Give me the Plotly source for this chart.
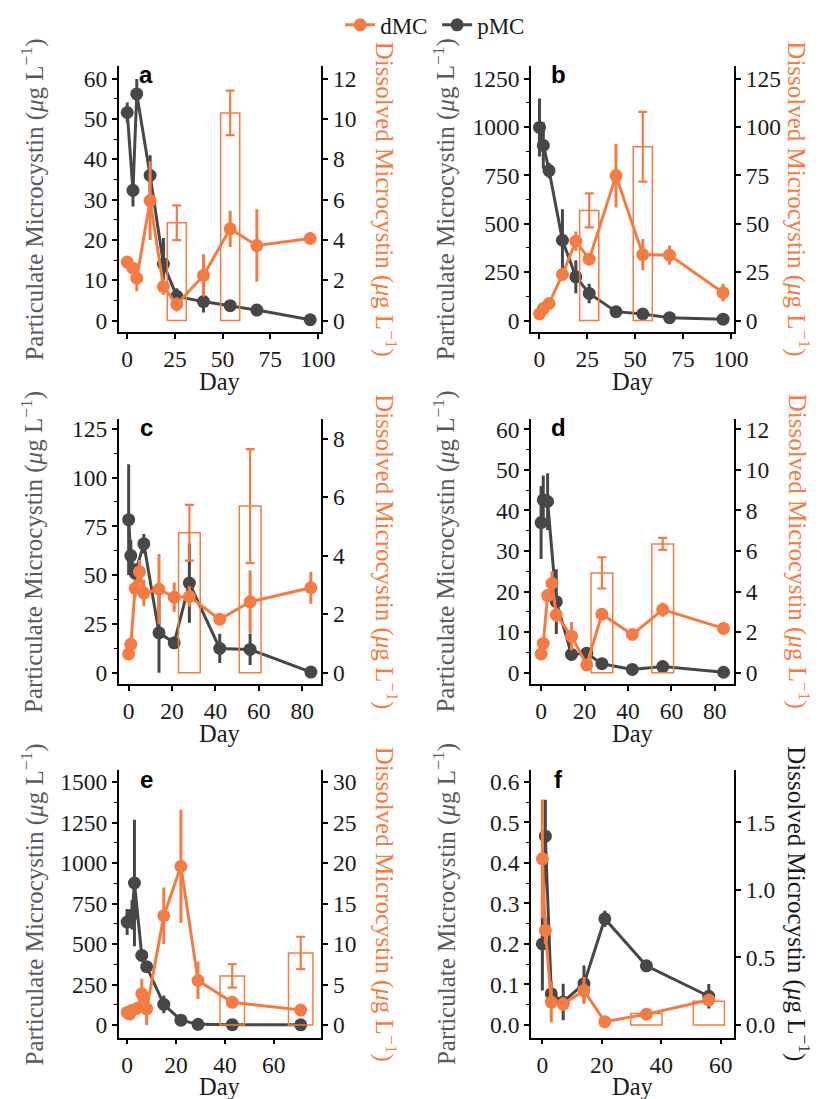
import plotly.graph_objects as go

ORANGE = "#F47C43"
GREY = "#474747"
TITLE_GREY = "#5A5A5A"

# ---------------- panel a ----------------
A_P_DAY = [0, 3, 5, 12, 19, 26, 40, 54, 68, 96]
A_PMC = [51.6, 32.3, 56.2, 36.0, 14.0, 6.0, 4.7, 3.7, 2.6, 0.2]
A_PMC_SD = [2.5, 4.0, 3.7, 5.0, 6.5, 2.0, 2.7, 1.2, 1.0, 0.3]
A_D_DAY = [0, 3, 5, 12, 19, 26, 40, 54, 68, 96]
A_DMC = [2.9, 2.6, 2.1, 5.95, 1.68, 0.8, 2.24, 4.55, 3.72, 4.07]
A_DMC_SD = [0.2, 0.2, 0.65, 1.95, 0.4, 0.35, 1.05, 0.9, 1.8, 0.3]
A_BAR_DAY = [26, 54]
A_BAR = [4.85, 10.3]
A_BAR_SD = [0.86, 1.1]

# ---------------- panel b ----------------
B_P_DAY = [0, 2, 5, 12, 19, 26, 40, 54, 68, 96]
B_PMC = [998, 905, 775, 415, 226, 140, 46, 34, 15, 7]
B_PMC_SD = [150, 120, 40, 160, 85, 50, 10, 10, 5, 3]
B_D_DAY = [0, 2, 5, 12, 19, 26, 40, 54, 68, 96]
B_DMC = [3.5, 6.2, 8.8, 23.8, 41.0, 31.7, 74.9, 34.1, 33.8, 14.4]
B_DMC_SD = [1.0, 1.0, 1.5, 3.0, 5.0, 3.0, 16.5, 8.0, 5.0, 4.5]
B_BAR_DAY = [26, 54]
B_BAR = [56.9, 89.8]
B_BAR_SD = [8.8, 18.0]

# ---------------- panel c ----------------
C_P_DAY = [0, 1, 3, 7, 14, 21, 28, 42, 56, 84]
C_PMC = [78.4, 60.0, 51.0, 66.0, 20.4, 15.3, 45.9, 12.4, 11.9, 0.3]
C_PMC_SD = [28.4, 8.0, 5.0, 5.0, 20.5, 3.0, 20.3, 7.5, 8.0, 0.5]
C_D_DAY = [0, 1, 3, 5, 7, 14, 21, 28, 42, 56, 84]
C_DMC = [0.64, 0.97, 2.88, 3.45, 2.72, 2.85, 2.58, 2.6, 1.82, 2.42, 2.9]
C_DMC_SD = [0.05, 0.1, 0.3, 0.4, 0.45, 1.2, 0.5, 0.35, 0.1, 1.08, 0.55]
C_BAR_DAY = [28, 56]
C_BAR = [4.78, 5.69]
C_BAR_SD = [0.95, 1.95]

# ---------------- panel d ----------------
D_P_DAY = [0, 1, 3, 7, 14, 21, 28, 42, 56, 84]
D_PMC = [37.0, 42.6, 42.2, 17.5, 4.5, 4.8, 2.2, 0.8, 1.5, 0.1]
D_PMC_SD = [9.0, 6.0, 7.0, 8.0, 1.5, 1.0, 0.8, 0.5, 0.5, 0.1]
D_D_DAY = [0, 1, 3, 5, 7, 14, 21, 28, 42, 56, 84]
D_DMC = [0.92, 1.44, 3.8, 4.4, 2.85, 1.8, 0.38, 2.88, 1.88, 3.11, 2.18]
D_DMC_SD = [0.1, 0.15, 0.3, 0.6, 0.35, 0.7, 0.1, 0.3, 0.25, 0.35, 0.3]
D_BAR_DAY = [28, 56]
D_BAR = [4.92, 6.35]
D_BAR_SD = [0.77, 0.3]

# ---------------- panel e ----------------
E_P_DAY = [0, 2, 3, 6, 8, 15, 22, 29, 43, 71]
E_PMC = [636, 680, 877, 430, 360, 127, 30, 4, 2, 1]
E_PMC_SD = [80, 90, 390, 30, 30, 55, 10, 2, 1, 1]
E_D_DAY = [0, 1, 2, 4, 6, 8, 15, 22, 29, 43, 71]
E_DMC = [1.56, 1.35, 1.8, 2.05, 3.85, 2.0, 13.5, 19.6, 5.5, 2.8, 1.85]
E_DMC_SD = [0.2, 0.2, 0.3, 0.4, 1.85, 2.0, 3.5, 7.0, 2.3, 0.6, 0.3]
E_BAR_DAY = [43, 71]
E_BAR = [6.07, 8.9]
E_BAR_SD = [1.45, 2.0]

# ---------------- panel f ----------------
F_P_DAY = [0, 1, 3, 7, 14, 21, 35, 56]
F_PMC = [0.2, 0.466, 0.077, 0.057, 0.102, 0.262, 0.146, 0.071]
F_PMC_SD = [0.115, 0.09, 0.03, 0.045, 0.045, 0.02, 0.012, 0.03]
F_D_DAY = [0, 1, 3, 7, 14, 21, 35, 56]
F_DMC = [1.23, 0.70, 0.17, 0.155, 0.255, 0.025, 0.08, 0.185]
F_DMC_SD = [0.44, 0.1, 0.15, 0.05, 0.1, 0.01, 0.02, 0.03]
F_BAR_DAY = [35, 56]
F_BAR = [0.086, 0.176]
F_BAR_SD = None

# ---------------- axis ticks ----------------
X_TICKS_AB = [0, 25, 50, 75, 100]
X_TICKS_CD = [0, 20, 40, 60, 80]
X_TICKS_EF = [0, 20, 40, 60]

W, H = 829, 1099
COL_X = [(120.7, 327.0), (540.0, 747.0)]
ROW_Y = [(63.0, 331.0), (417.7, 684.3), (771.0, 1039.3)]
LEFT_TITLE_X = [33.0, 451.7]
RIGHT_TITLE_X = [393.0, 812.5]

panels = [
    dict(label="a", col=0, row=0, p=(A_P_DAY, A_PMC, A_PMC_SD), d=(A_D_DAY, A_DMC, A_DMC_SD),
         bar=(A_BAR_DAY, A_BAR, A_BAR_SD), bw=10, xr=[-4.5, 101.9], xt=X_TICKS_AB,
         yl=[-2.96, 63.2], ldt=10, k=5, rdt=2, fmt="", rcol=ORANGE),
    dict(label="b", col=1, row=0, p=(B_P_DAY, B_PMC, B_PMC_SD), d=(B_D_DAY, B_DMC, B_DMC_SD),
         bar=(B_BAR_DAY, B_BAR, B_BAR_SD), bw=10, xr=[-4.5, 101.9], xt=X_TICKS_AB,
         yl=[-61.7, 1316.9], ldt=250, k=10, rdt=25, fmt="", rcol=ORANGE),
    dict(label="c", col=0, row=1, p=(C_P_DAY, C_PMC, C_PMC_SD), d=(C_D_DAY, C_DMC, C_DMC_SD),
         bar=(C_BAR_DAY, C_BAR, C_BAR_SD), bw=10, xr=[-4.6, 88.9], xt=X_TICKS_CD,
         yl=[-5.92, 130.1], ldt=25, k=15, rdt=2, fmt="", rcol=ORANGE),
    dict(label="d", col=1, row=1, p=(D_P_DAY, D_PMC, D_PMC_SD), d=(D_D_DAY, D_DMC, D_DMC_SD),
         bar=(D_BAR_DAY, D_BAR, D_BAR_SD), bw=10, xr=[-4.7, 89.0], xt=X_TICKS_CD,
         yl=[-2.85, 62.6], ldt=10, k=5, rdt=2, fmt="", rcol=ORANGE),
    dict(label="e", col=0, row=2, p=(E_P_DAY, E_PMC, E_PMC_SD), d=(E_D_DAY, E_DMC, E_DMC_SD),
         bar=(E_BAR_DAY, E_BAR, E_BAR_SD), bw=10, xr=[-3.46, 79.5], xt=X_TICKS_EF,
         yl=[-77.5, 1571.9], ldt=250, k=50, rdt=5, fmt="", rcol=ORANGE),
    dict(label="f", col=1, row=2, p=(F_P_DAY, F_PMC, F_PMC_SD), d=(F_D_DAY, F_DMC, F_DMC_SD),
         bar=(F_BAR_DAY, F_BAR, F_BAR_SD), bw=10.5, xr=[-3.87, 64.6], xt=X_TICKS_EF,
         yl=[-0.031, 0.628], ldt=0.1, k=1 / 3, rdt=0.5, fmt=".1f", rcol="#1a1a1a"),
]

SERIF = "Liberation Serif"
TICK_FONT = dict(family=SERIF, size=23.5, color="#1a1a1a")


def px_x(v):
    return v / W


def px_y(v):
    return 1 - v / H


fig = go.Figure()
annotations = []
layout = {}

for i, pnl in enumerate(panels, start=1):
    xs = "" if i == 1 else str(i)
    yl_id = 2 * i - 1
    yr_id = 2 * i
    yl_s = "" if yl_id == 1 else str(yl_id)
    yr_s = str(yr_id)
    x0, x1 = COL_X[pnl["col"]]
    y0, y1 = ROW_Y[pnl["row"]]
    xdom = [px_x(x0), px_x(x1)]
    ydom = [px_y(y1), px_y(y0)]

    axis_common = dict(showline=True, linecolor="black", linewidth=1.5, ticks="outside",
                       ticklen=5, tickwidth=1.5, tickcolor="black", showgrid=False,
                       zeroline=False, tickfont=TICK_FONT)

    layout["xaxis" + xs] = dict(axis_common, domain=xdom, anchor="y" + yl_s,
                                range=pnl["xr"], tickvals=pnl["xt"])
    yl = pnl["yl"]
    layout["yaxis" + yl_s] = dict(axis_common, domain=ydom, anchor="x" + xs, range=yl,
                                  dtick=pnl["ldt"], tick0=0, tickformat=pnl["fmt"],
                                  minor=dict(dtick=pnl["ldt"] / 2, tick0=0, ticks="outside",
                                             ticklen=3, tickwidth=1.2, tickcolor="black",
                                             showgrid=False))
    k = pnl["k"]
    layout["yaxis" + yr_s] = dict(axis_common, overlaying="y" + yl_s, side="right",
                                  anchor="x" + xs, range=[yl[0] / k, yl[1] / k],
                                  dtick=pnl["rdt"], tick0=0, tickformat=pnl["fmt"])

    # open bars (right axis)
    bd, bv, bsd = pnl["bar"]
    fig.add_trace(go.Bar(
        x=bd, y=bv, width=pnl["bw"], xaxis="x" + xs, yaxis="y" + yr_s,
        marker=dict(color="rgba(0,0,0,0)", line=dict(color=ORANGE, width=1.5)),
        error_y=dict(type="data", array=bsd, visible=bsd is not None, color=ORANGE,
                     thickness=2.2, width=4.5),
        showlegend=False, hoverinfo="skip"))

    # particulate microcystin (left axis)
    pd_, pv, psd = pnl["p"]
    fig.add_trace(go.Scatter(
        x=pd_, y=pv, mode="lines+markers", name="pMC", legendgroup="pMC",
        showlegend=(i == 1), legendrank=2, xaxis="x" + xs, yaxis="y" + yl_s,
        line=dict(color=GREY, width=3), marker=dict(color=GREY, size=13),
        error_y=dict(type="data", array=psd, color=GREY, thickness=3, width=0)))

    # dissolved microcystin (right axis)
    dd, dv, dsd = pnl["d"]
    fig.add_trace(go.Scatter(
        x=dd, y=dv, mode="lines+markers", name="dMC", legendgroup="dMC",
        showlegend=(i == 1), legendrank=1, xaxis="x" + xs, yaxis="y" + yr_s,
        line=dict(color=ORANGE, width=3), marker=dict(color=ORANGE, size=13),
        error_y=dict(type="data", array=dsd, color=ORANGE, thickness=3, width=0)))

    cy = (y0 + y1) / 2
    annotations.append(dict(
        text="Particulate Microcystin (<i>μ</i>g L<sup>−1</sup>)", textangle=-90,
        x=px_x(LEFT_TITLE_X[pnl["col"]]), y=px_y(cy), xref="paper", yref="paper",
        xanchor="center", yanchor="middle", showarrow=False,
        font=dict(family=SERIF, size=25, color=TITLE_GREY)))
    annotations.append(dict(
        text="Dissolved Microcystin (<i>μ</i>g L<sup>−1</sup>)", textangle=90,
        x=px_x(RIGHT_TITLE_X[pnl["col"]]), y=px_y(cy), xref="paper", yref="paper",
        xanchor="center", yanchor="middle", showarrow=False,
        font=dict(family=SERIF, size=25, color=pnl["rcol"])))
    annotations.append(dict(
        text="Day", x=px_x((x0 + x1) / 2), y=px_y(y1 + 49.5), xref="paper", yref="paper",
        xanchor="center", yanchor="middle", showarrow=False,
        font=dict(family=SERIF, size=24.5, color="#1a1a1a")))
    annotations.append(dict(
        text="<b>" + pnl["label"] + "</b>", x=px_x(x0 + 28), y=px_y(y0 + 9),
        xref="paper", yref="paper", xanchor="center", yanchor="middle", showarrow=False,
        font=dict(family="Liberation Sans", size=24, color="black")))

fig.update_layout(
    width=W, height=H, margin=dict(l=0, r=0, t=0, b=0),
    paper_bgcolor="white", plot_bgcolor="rgba(0,0,0,0)",
    annotations=annotations, barmode="overlay",
    legend=dict(orientation="h", x=px_x(346), y=px_y(22), xanchor="left", yanchor="middle",
                font=dict(family=SERIF, size=23, color="#1a1a1a"), itemwidth=30,
                entrywidth=52, entrywidthmode="pixels",
                bgcolor="rgba(0,0,0,0)", traceorder="normal"),
    **layout)

fig.write_html("out.html")
